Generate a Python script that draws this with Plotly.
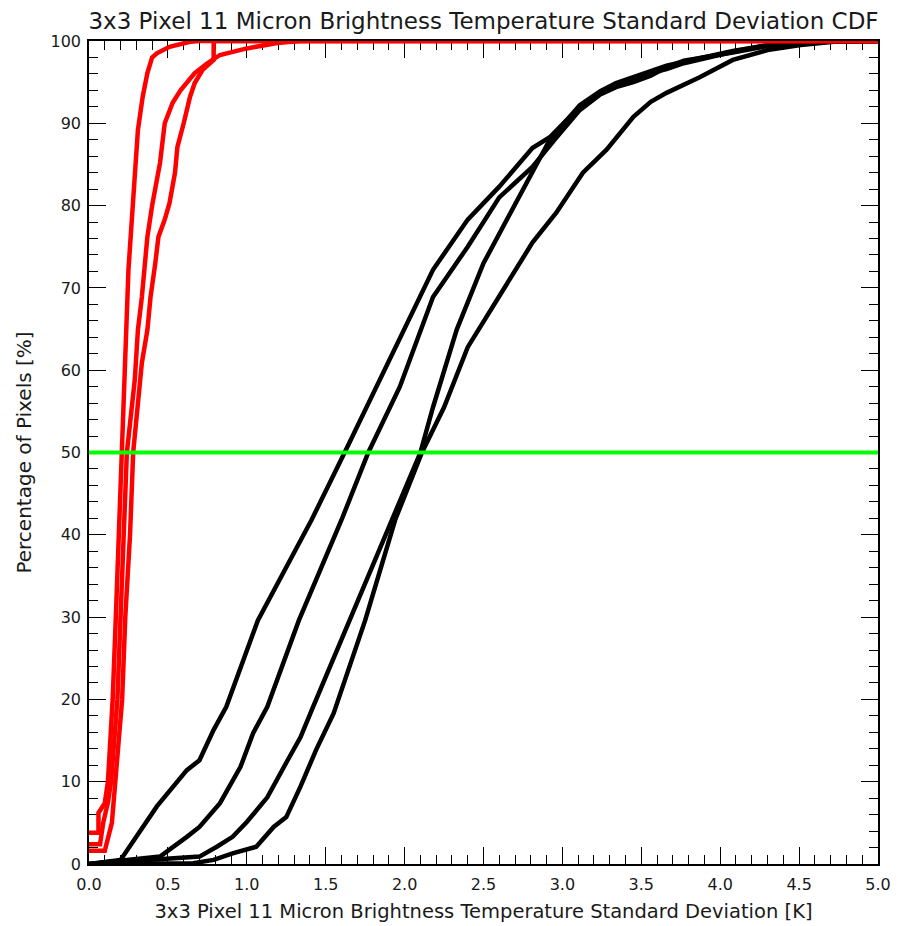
import plotly.graph_objects as go

# ---- data ----
red1_x = [0.0, 0.06, 0.06, 0.10, 0.12, 0.15, 0.17, 0.19, 0.21, 0.215, 0.23, 0.24, 0.25, 0.27, 0.29, 0.31, 0.34, 0.37, 0.40, 0.43, 0.51, 0.64, 0.70, 5.0]
red1_y = [3.8, 3.8, 6.2, 7.4, 10.0, 20.0, 30.0, 40.0, 50.0, 54.8, 60.9, 65.7, 72.2, 77.9, 84.3, 89.2, 93.2, 96.1, 98.0, 98.5, 99.3, 99.9, 100.0, 100.0]

red2_x = [0.0, 0.07, 0.09, 0.12, 0.14, 0.18, 0.20, 0.22, 0.24, 0.29, 0.31, 0.335, 0.355, 0.37, 0.40, 0.42, 0.45, 0.48, 0.53, 0.58, 0.62, 0.67, 0.75, 0.83, 1.0, 1.21, 1.34, 5.0]
red2_y = [2.4, 2.4, 5.0, 7.5, 10.0, 20.0, 30.0, 40.0, 50.0, 58.8, 64.9, 68.9, 73.0, 76.2, 80.0, 81.9, 85.2, 90.0, 92.5, 94.0, 95.0, 96.1, 97.3, 98.3, 99.1, 99.8, 100.0, 100.0]

red3_x = [0.0, 0.10, 0.145, 0.165, 0.21, 0.23, 0.26, 0.28, 0.31, 0.335, 0.37, 0.39, 0.42, 0.44, 0.48, 0.51, 0.545, 0.56, 0.60, 0.64, 0.67, 0.72, 0.79, 0.79, 5.0]
red3_y = [1.6, 1.6, 5.0, 10.0, 20.0, 30.0, 40.0, 50.0, 56.7, 60.9, 64.9, 68.9, 73.0, 76.2, 78.3, 80.3, 84.0, 87.1, 90.0, 93.2, 94.9, 96.5, 97.7, 100.0, 100.0]

blkA_x = [0.0, 0.2, 0.43, 0.62, 0.70, 0.79, 0.87, 1.07, 1.36, 1.41, 1.62, 1.97, 2.18, 2.40, 2.60, 2.81, 2.92, 3.11, 3.24, 3.34, 3.45, 3.56, 3.66, 3.77, 4.08, 4.30, 4.61, 5.0]
blkA_y = [0.0, 0.5, 7.0, 11.4, 12.6, 16.3, 19.1, 29.6, 40.0, 41.8, 50.0, 63.7, 72.2, 78.3, 82.3, 87.0, 88.3, 92.0, 93.7, 94.7, 95.3, 96.1, 96.6, 97.3, 98.7, 99.5, 99.9, 100.0]

blkB_x = [0.0, 0.45, 0.62, 0.70, 0.83, 0.96, 1.04, 1.13, 1.33, 1.60, 1.77, 1.97, 2.18, 2.40, 2.60, 2.81, 2.95, 3.11, 3.24, 3.34, 3.45, 3.56, 3.66, 3.77, 4.08, 4.30, 4.61, 5.0]
blkB_y = [0.0, 0.9, 3.3, 4.5, 7.4, 11.8, 15.9, 19.1, 29.6, 41.8, 50.0, 58.0, 68.9, 75.0, 81.0, 84.7, 88.0, 91.6, 93.5, 94.4, 95.0, 95.8, 96.8, 97.6, 98.6, 99.4, 99.9, 100.0]

blkC_x = [0.0, 0.70, 0.81, 0.91, 1.0, 1.13, 1.25, 1.34, 1.42, 1.65, 1.92, 2.10, 2.18, 2.33, 2.50, 2.67, 2.81, 2.92, 3.11, 3.24, 3.34, 3.45, 3.56, 3.66, 3.77, 4.08, 4.30, 4.61, 5.0]
blkC_y = [0.0, 0.9, 2.1, 3.3, 5.1, 8.1, 12.3, 15.4, 19.1, 29.6, 41.8, 50.0, 55.5, 64.9, 73.0, 79.1, 84.3, 88.0, 92.2, 93.9, 94.9, 95.6, 96.3, 97.0, 97.5, 98.8, 99.5, 99.9, 100.0]

blkD_x = [0.0, 0.66, 0.79, 0.91, 1.06, 1.17, 1.25, 1.34, 1.44, 1.55, 1.75, 1.94, 2.11, 2.25, 2.40, 2.60, 2.81, 2.96, 3.13, 3.28, 3.45, 3.56, 3.66, 3.87, 4.08, 4.30, 4.51, 4.72, 5.0]
blkD_y = [0.0, 0.1, 0.5, 1.3, 2.1, 4.5, 5.7, 9.4, 13.9, 18.3, 29.6, 41.8, 50.0, 55.5, 62.8, 68.9, 75.5, 79.1, 84.0, 86.8, 90.8, 92.6, 93.7, 95.6, 97.7, 98.9, 99.5, 99.9, 100.0]

median_x = [0.0, 5.0]
median_y = [50.0, 50.0]

x_ticks = [0.0, 0.5, 1.0, 1.5, 2.0, 2.5, 3.0, 3.5, 4.0, 4.5, 5.0]
x_tick_labels = ["0.0", "0.5", "1.0", "1.5", "2.0", "2.5", "3.0", "3.5", "4.0", "4.5", "5.0"]
y_ticks = [0, 10, 20, 30, 40, 50, 60, 70, 80, 90, 100]
y_tick_labels = ["0", "10", "20", "30", "40", "50", "60", "70", "80", "90", "100"]

title_text = "3x3 Pixel 11 Micron Brightness Temperature Standard Deviation CDF"
x_title = "3x3 Pixel 11 Micron Brightness Temperature Standard Deviation [K]"
y_title = "Percentage of Pixels [%]"

FONT = "DejaVu Sans"
TXT = "#1a1a1a"

# The page body adds an 8px margin, so the figure is sized/offset to compensate.
FIG_W, FIG_H = 900, 918

fig = go.Figure()

for xs, ys in [(blkA_x, blkA_y), (blkB_x, blkB_y), (blkC_x, blkC_y), (blkD_x, blkD_y)]:
    fig.add_trace(go.Scatter(x=xs, y=ys, mode="lines", cliponaxis=False,
                             line=dict(color="black", width=4.5), showlegend=False, hoverinfo="skip"))

for xs, ys in [(red1_x, red1_y), (red2_x, red2_y), (red3_x, red3_y)]:
    fig.add_trace(go.Scatter(x=xs, y=ys, mode="lines", cliponaxis=False,
                             line=dict(color="#ff0000", width=4.5), showlegend=False, hoverinfo="skip"))

fig.add_trace(go.Scatter(x=median_x, y=median_y, mode="lines", cliponaxis=False,
                         line=dict(color="#00ff00", width=4), showlegend=False, hoverinfo="skip"))

axis_common = dict(
    showgrid=False, zeroline=False, automargin=False,
    showline=True, linecolor="black", linewidth=1.5, mirror="allticks",
    ticks="inside", tickcolor="black", tickwidth=1.2, ticklen=17,
    tickfont=dict(family=FONT, size=16, color=TXT),
    layer="below traces",
)

fig.update_layout(
    width=FIG_W, height=FIG_H,
    paper_bgcolor="white", plot_bgcolor="white",
    margin=dict(l=81, r=30, t=33, b=62),
    title=dict(text=title_text, x=0.5, xref="paper", xanchor="center",
               y=1 - 13 / FIG_H, yref="container", yanchor="middle",
               font=dict(family=FONT, size=23, color=TXT)),
    xaxis=dict(range=[0, 5], tickvals=x_ticks, ticktext=x_tick_labels,
               ticklabelstandoff=5,
               minor=dict(dtick=0.1, tick0=0, ticks="inside", ticklen=9, tickcolor="black", tickwidth=1.2),
               title=dict(text=x_title, font=dict(family=FONT, size=19.5, color=TXT), standoff=11),
               **axis_common),
    yaxis=dict(range=[0, 100], tickvals=y_ticks, ticktext=y_tick_labels,
               ticklabelstandoff=3,
               minor=dict(dtick=2, tick0=0, ticks="inside", ticklen=9, tickcolor="black", tickwidth=1.2),
               title=dict(text=y_title, font=dict(family=FONT, size=20, color=TXT), standoff=14),
               **axis_common),
)

fig.write_html("out.html")
